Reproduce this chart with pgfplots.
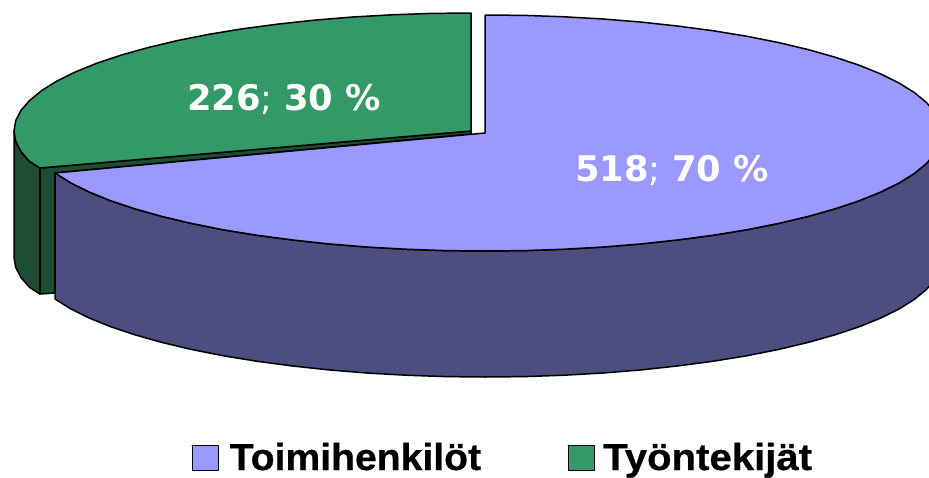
\documentclass[border=0pt]{standalone}
\usepackage{pgfplots}
\pgfplotsset{compat=1.18}
\usepackage{fontspec}
\setmainfont{Liberation Sans}
\newfontfamily\verd{DejaVu Sans}
\newfontfamily\legf[FakeBold=0.6]{Liberation Sans Bold}
\definecolor{purp}{HTML}{9999FF}
\definecolor{purpd}{HTML}{4D4D80}
\definecolor{gre}{HTML}{339966}
\definecolor{gred}{HTML}{1D4D33}
\begin{document}
\begin{tikzpicture}
\path[use as bounding box] (0,0) rectangle (929pt,477pt);
\begin{axis}[at={(0,0)},anchor=south west,scale only axis,width=929pt,height=477pt,
  xmin=0,xmax=929,ymin=0,ymax=477,y dir=reverse,hide axis,
  every axis plot/.append style={line join=round,line cap=round,draw=black,line width=1.5pt}]
% green outer side
\addplot[fill=gred] coordinates {(14,131)(15.7,141.3)(20.9,151.5)(29.6,161.5)(40,168)(40,294)(29.6,287.5)(20.9,277.5)(15.7,267.3)(14,257)(14,131)};
% green radial wall
\addplot[fill=gred] coordinates {(40,168)(471,131)(471,134)(55,173)(55,293)(40,294)(40,168)};
% green top
\addplot[fill=gre] coordinates {(471,13)(431.2,13.4)(391.7,14.8)(352.7,17)(314.7,20.1)(277.9,24.1)(242.5,28.8)(208.9,34.3)(177.2,40.6)(147.8,47.6)(120.9,55.2)(96.6,63.3)(75.2,72)(56.8,81.1)(41.6,90.6)(29.6,100.5)(20.9,110.5)(15.7,120.7)(14,131)(15.7,141.3)(20.9,151.5)(29.6,161.5)(40,168)(471,131)(471,13)};
% purple side
\addplot[fill=purpd] coordinates {(942,133)(940.3,143.3)(935.1,153.5)(926.4,163.5)(914.4,173.4)(899.2,182.9)(880.8,192)(859.4,200.7)(835.1,208.8)(808.2,216.4)(778.8,223.4)(747.1,229.7)(713.5,235.2)(678.1,239.9)(641.3,243.9)(603.3,247)(564.3,249.2)(524.8,250.6)(485,251)(445.2,250.6)(405.7,249.2)(366.7,247)(328.7,243.9)(291.9,239.9)(256.5,235.2)(222.9,229.7)(191.2,223.4)(161.8,216.4)(134.9,208.8)(110.6,200.7)(89.2,192)(70.8,182.9)(55,173)(55,299)(70.8,308.9)(89.2,318)(110.6,326.7)(134.9,334.8)(161.8,342.4)(191.2,349.4)(222.9,355.7)(256.5,361.2)(291.9,365.9)(328.7,369.9)(366.7,373)(405.7,375.2)(445.2,376.6)(485,377)(524.8,376.6)(564.3,375.2)(603.3,373)(641.3,369.9)(678.1,365.9)(713.5,361.2)(747.1,355.7)(778.8,349.4)(808.2,342.4)(835.1,334.8)(859.4,326.7)(880.8,318)(899.2,308.9)(914.4,299.4)(926.4,289.5)(935.1,279.5)(940.3,269.3)(942,259)(942,133)};
% purple top
\addplot[fill=purp] coordinates {(485,15)(524.8,15.4)(564.3,16.8)(603.3,19)(641.3,22.1)(678.1,26.1)(713.5,30.8)(747.1,36.3)(778.8,42.6)(808.2,49.6)(835.1,57.2)(859.4,65.3)(880.8,74)(899.2,83.1)(914.4,92.6)(926.4,102.5)(935.1,112.5)(940.3,122.7)(942,133)(940.3,143.3)(935.1,153.5)(926.4,163.5)(914.4,173.4)(899.2,182.9)(880.8,192)(859.4,200.7)(835.1,208.8)(808.2,216.4)(778.8,223.4)(747.1,229.7)(713.5,235.2)(678.1,239.9)(641.3,243.9)(603.3,247)(564.3,249.2)(524.8,250.6)(485,251)(445.2,250.6)(405.7,249.2)(366.7,247)(328.7,243.9)(291.9,239.9)(256.5,235.2)(222.9,229.7)(191.2,223.4)(161.8,216.4)(134.9,208.8)(110.6,200.7)(89.2,192)(70.8,182.9)(55,173)(485,133)(485,15)};
% legend keys
\addplot[fill=purp,line width=1pt] coordinates {(192,445)(218,445)(218,470)(192,470)(192,445)};
\addplot[fill=gre,line width=1pt] coordinates {(568,445)(594,445)(594,470)(568,470)(568,445)};
\node[anchor=base,text=white,inner sep=0pt] at (axis cs:284,110.5) {\verd\fontsize{35.3}{40}\selectfont\textbf{226}; \textbf{30 \%}};
\node[anchor=base,text=white,inner sep=0pt] at (axis cs:672,181.5) {\verd\fontsize{35.3}{40}\selectfont\textbf{518}; \textbf{70 \%}};
\node[anchor=base west,inner sep=0pt,xscale=1.043] at (axis cs:229.5,470) {\legf\fontsize{37.5}{44}\selectfont Toimihenkilöt};
\node[anchor=base west,inner sep=0pt,xscale=1.07] at (axis cs:603,470) {\legf\fontsize{37.5}{44}\selectfont Työntekijät};
\end{axis}
\end{tikzpicture}
\end{document}
